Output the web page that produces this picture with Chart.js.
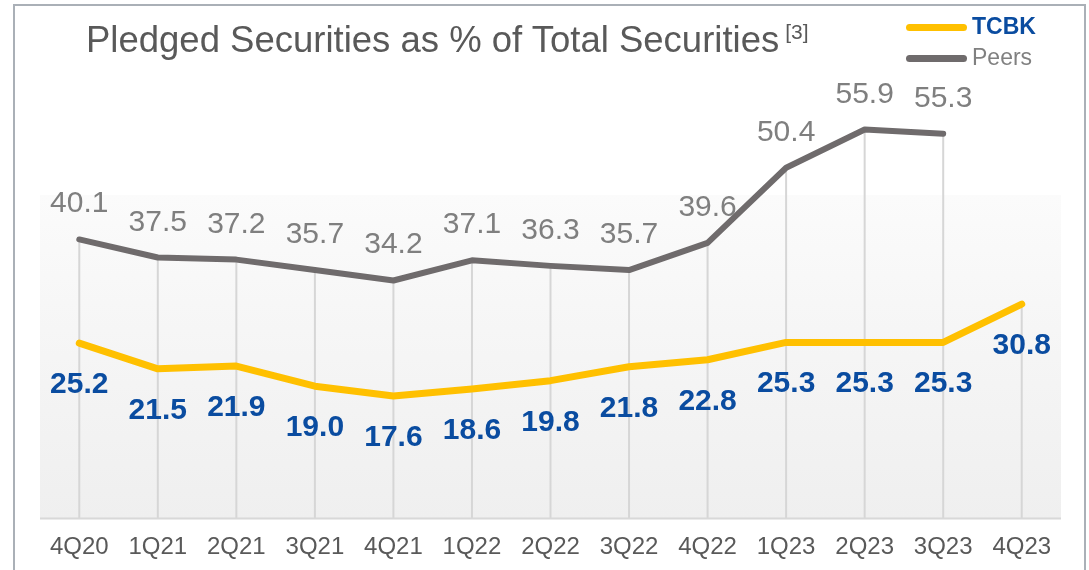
<!DOCTYPE html>
<html>
<head>
<meta charset="utf-8">
<script src="https://cdn.jsdelivr.net/npm/chart.js@4.4.1/dist/chart.umd.min.js"></script>
<style>
    html, body { margin: 0; padding: 0; background: #fff; }
    #wrap { position: relative; width: 1089px; height: 570px; overflow: hidden; font-family: "Liberation Sans", Arial, sans-serif; }
    #frame { position: absolute; left: 13px; top: 4px; width: 1073px; height: 640px; border: 2px solid #aab0b7; box-sizing: border-box; }
    #chart { position: absolute; left: 0; top: 0; }
    #title { position: absolute; left: 86px; top: 22px; font-size: 36.5px; line-height: 36px; color: #595959; white-space: nowrap; }
    #title span { font-size: 21px; position: relative; top: -13px; margin-left: 6px; }
    .legend-item { position: absolute; left: 906px; height: 30px; white-space: nowrap; }
    .legend-line { position: absolute; left: 0; width: 61px; height: 7px; border-radius: 4px; }
    .legend-text { position: absolute; left: 66px; font-size: 23px; line-height: 23px; }
</style>
</head>
<body>
<div id="wrap">
    <div id="frame"></div>
    <canvas id="chart" width="1089" height="570"></canvas>
    <div id="title">Pledged Securities as % of Total Securities<span>[3]</span></div>
    <div id="legend"></div>
</div>
<script>
const quarters = ['4Q20', '1Q21', '2Q21', '3Q21', '4Q21', '1Q22', '2Q22', '3Q22', '4Q22', '1Q23', '2Q23', '3Q23', '4Q23'];
const tcbk = [25.2, 21.5, 21.9, 19.0, 17.6, 18.6, 19.8, 21.8, 22.8, 25.3, 25.3, 25.3, 30.8];
const peers = [40.1, 37.5, 37.2, 35.7, 34.2, 37.1, 36.3, 35.7, 39.6, 50.4, 55.9, 55.3, null];
const seriesNames = ['TCBK', 'Peers'];

const yellow = '#FFC000';
const grey = '#6F6B6C';
const blue = '#0A4CA0';
const fontFamily = '"Liberation Sans", Arial, sans-serif';

// legend (html)
const legend = document.getElementById('legend');
[
    { name: seriesNames[0], color: yellow, top: 10, textColor: blue, bold: true },
    { name: seriesNames[1], color: grey, top: 41, textColor: '#808080', bold: false }
].forEach(item => {
    legend.innerHTML += `
    <div class="legend-item" style="top:${item.top}px">
        <div class="legend-line" style="top:14px;background:${item.color}"></div>
        <div class="legend-text" style="top:5px;color:${item.textColor};font-weight:${item.bold ? 'bold' : 'normal'}">${item.name}</div>
    </div>`;
});

// gradient panel + drop lines behind the series
const backdrop = {
    id: 'backdrop',
    beforeDatasetsDraw(chart) {
        const { ctx, chartArea, scales } = chart;
        const x = scales.x, y = scales.y;
        const bottom = y.getPixelForValue(0);
        const top = y.getPixelForValue(46.5);
        ctx.save();
        const grad = ctx.createLinearGradient(0, top, 0, bottom);
        grad.addColorStop(0, '#fbfbfb');
        grad.addColorStop(1, '#efefef');
        ctx.fillStyle = grad;
        ctx.fillRect(chartArea.left, top, chartArea.right - chartArea.left, bottom - top);

        ctx.strokeStyle = '#d6d6d6';
        ctx.lineWidth = 2;
        quarters.forEach((q, i) => {
            const vals = [tcbk[i], peers[i]].filter(v => v !== null);
            const px = x.getPixelForValue(i);
            ctx.beginPath();
            ctx.moveTo(px, y.getPixelForValue(Math.max(...vals)));
            ctx.lineTo(px, bottom);
            ctx.stroke();
        });

        ctx.strokeStyle = '#d8d8d8';
        ctx.beginPath();
        ctx.moveTo(chartArea.left, bottom);
        ctx.lineTo(chartArea.right, bottom);
        ctx.stroke();
        ctx.restore();
    }
};

// value labels
const valueLabels = {
    id: 'valueLabels',
    afterDatasetsDraw(chart) {
        const { ctx } = chart;
        ctx.save();
        ctx.textAlign = 'center';
        ctx.textBaseline = 'alphabetic';
        chart.data.datasets.forEach((ds, di) => {
            const meta = chart.getDatasetMeta(di);
            meta.data.forEach((pt, i) => {
                const v = ds.data[i];
                if (v === null) return;
                if (di === 0) {
                    ctx.font = 'bold 30px ' + fontFamily;
                    ctx.fillStyle = blue;
                    ctx.fillText(v.toFixed(1), pt.x, pt.y + 50);
                } else {
                    ctx.font = '30px ' + fontFamily;
                    ctx.fillStyle = '#7F7F7F';
                    ctx.fillText(v.toFixed(1), pt.x, pt.y - 27);
                }
            });
        });
        ctx.restore();
    }
};

const chart = new Chart(document.getElementById('chart'), {
    type: 'line',
    data: {
        labels: quarters,
        datasets: [
            {
                label: seriesNames[0],
                data: tcbk,
                borderColor: yellow,
                borderWidth: 7,
                pointRadius: 0,
                tension: 0,
                borderCapStyle: 'round',
                borderJoinStyle: 'round'
            },
            {
                label: seriesNames[1],
                data: peers,
                borderColor: grey,
                borderWidth: 6,
                pointRadius: 0,
                tension: 0,
                borderCapStyle: 'round',
                borderJoinStyle: 'round'
            }
        ]
    },
    options: {
        responsive: false,
        animation: false,
        layout: { padding: { left: 40, right: 28, top: 101, bottom: 0 } },
        plugins: {
            legend: { display: false },
            tooltip: { enabled: false }
        },
        scales: {
            x: {
                offset: true,
                grid: { display: false, drawTicks: false },
                border: { display: false },
                ticks: {
                    color: '#595959',
                    padding: 15,
                    font: { family: fontFamily, size: 24 }
                },
                afterFit(scale) {
                    scale.height = 51.6;
                }
            },
            y: {
                display: false,
                min: 0,
                max: 60
            }
        }
    },
    plugins: [backdrop, valueLabels]
});
</script>
</body>
</html>
